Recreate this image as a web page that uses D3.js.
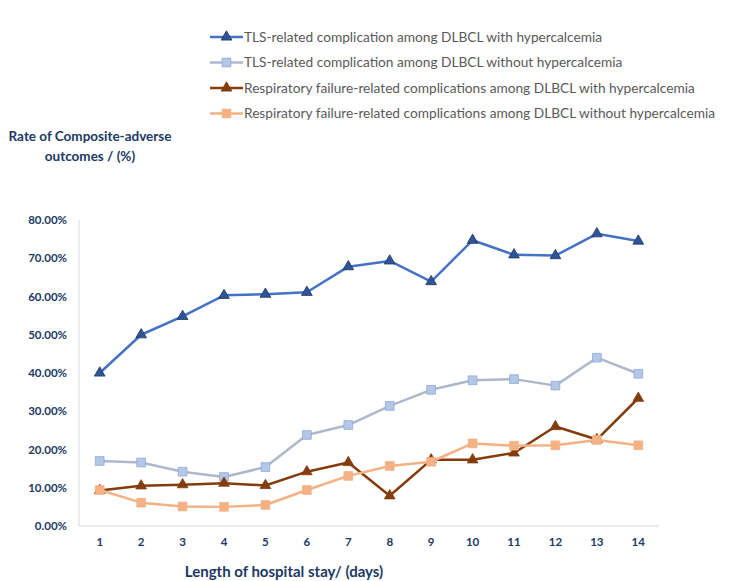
<!DOCTYPE html>
<html>
<head>
<meta charset="utf-8">
<script src="https://cdn.jsdelivr.net/npm/d3@7"></script>
<style>
  body { margin: 0; background: #fff; }
  svg text { font-family: Lato, "Open Sans", sans-serif; }
</style>
</head>
<body>
<div id="chart"></div>
<script>
// data
var days = [1, 2, 3, 4, 5, 6, 7, 8, 9, 10, 11, 12, 13, 14]
var tlsHyper    = [40.0, 50.0, 54.8, 60.3, 60.6, 61.1, 67.8, 69.3, 63.9, 74.7, 70.9, 70.7, 76.4, 74.5]
var tlsNoHyper  = [17.0, 16.6, 14.2, 12.8, 15.4, 23.8, 26.4, 31.4, 35.6, 38.1, 38.4, 36.7, 44.0, 39.8]
var respHyper   = [9.3, 10.5, 10.8, 11.2, 10.6, 14.2, 16.6, 7.9, 17.3, 17.3, 19.1, 26.0, 22.6, 33.4]
var respNoHyper = [9.4, 6.1, 5.1, 5.0, 5.5, 9.4, 13.1, 15.7, 16.8, 21.6, 21.0, 21.1, 22.5, 21.1]
var yTicks = [0, 10, 20, 30, 40, 50, 60, 70, 80]

var series = [
  { name: 'TLS-related complication among DLBCL with hypercalcemia', values: tlsHyper,
    line: '#4472C4', fill: '#2F5597', stroke: '#203864', marker: 'triangle' },
  { name: 'TLS-related complication among DLBCL without hypercalcemia', values: tlsNoHyper,
    line: '#ADB9CA', fill: '#B4C7E7', stroke: '#8FAADC', marker: 'square' },
  { name: 'Respiratory failure-related complications among DLBCL with hypercalcemia', values: respHyper,
    line: '#843C0C', fill: '#843C0C', stroke: '#843C0C', marker: 'triangle' },
  { name: 'Respiratory failure-related complications among DLBCL without hypercalcemia', values: respNoHyper,
    line: '#F4B183', fill: '#F4B183', stroke: '#F4B183', marker: 'square' }
]

var width = 750, height = 581
var navy = '#203864'

var svg = d3.select('#chart').append('svg')
    .attr('width', width)
    .attr('height', height)

// scales
var x = d3.scaleBand().domain(days).range([79, 659])
var y = d3.scaleLinear().domain([0, 80]).range([526, 220])

function cx(d) { return x(d) + x.bandwidth() / 2 }

var tri = d3.symbol().type(d3.symbolTriangle).size(50)
var sq  = d3.symbol().type(d3.symbolSquare).size(76)

// axes lines
svg.append('line')
    .attr('x1', 79).attr('x2', 79)
    .attr('y1', y(80)).attr('y2', y(0))
    .attr('stroke', '#D9D9D9').attr('stroke-width', 1)
svg.append('line')
    .attr('x1', 79).attr('x2', 659)
    .attr('y1', y(0)).attr('y2', y(0))
    .attr('stroke', '#D9D9D9').attr('stroke-width', 1)

// y tick labels
svg.selectAll('.ytick').data(yTicks).enter()
  .append('text')
    .attr('class', 'ytick')
    .attr('x', 67)
    .attr('y', d => y(d))
    .attr('dy', '0.35em')
    .attr('text-anchor', 'end')
    .attr('font-size', 11.5)
    .attr('font-weight', 'bold')
    .attr('fill', navy)
    .text(d => d.toFixed(2) + '%')

// x tick labels
svg.selectAll('.xtick').data(days).enter()
  .append('text')
    .attr('class', 'xtick')
    .attr('x', d => cx(d))
    .attr('y', 542)
    .attr('dy', '0.35em')
    .attr('text-anchor', 'middle')
    .attr('font-size', 11.5)
    .attr('font-weight', 'bold')
    .attr('fill', navy)
    .text(d => d)

// axis titles
var ytitle = svg.append('text')
    .attr('font-size', 13.5)
    .attr('font-weight', 'bold')
    .attr('fill', navy)
    .attr('text-anchor', 'middle')
ytitle.append('tspan').attr('x', 90).attr('y', 141).text('Rate of Composite-adverse')
ytitle.append('tspan').attr('x', 90).attr('y', 161).text('outcomes / (%)')

svg.append('text')
    .attr('x', 284)
    .attr('y', 577)
    .attr('text-anchor', 'middle')
    .attr('font-size', 15)
    .attr('font-weight', 'bold')
    .attr('fill', navy)
    .text('Length of hospital stay/ (days)')

// lines + markers
var line = d3.line()
    .x((d, i) => cx(days[i]))
    .y(d => y(d))

series.forEach(function(s) {
  var g = svg.append('g')
  g.append('path')
      .datum(s.values)
      .attr('d', line)
      .attr('fill', 'none')
      .attr('stroke', s.line)
      .attr('stroke-width', 2.5)
      .attr('stroke-linejoin', 'round')
  g.selectAll('path.mk').data(s.values).enter()
    .append('path')
      .attr('class', 'mk')
      .attr('d', s.marker == 'triangle' ? tri : sq)
      .attr('transform', (d, i) => 'translate(' + cx(days[i]) + ',' + y(d) + ')')
      .attr('fill', s.fill)
      .attr('stroke', s.stroke)
      .attr('stroke-width', 0.8)
})

// legend
var legend = svg.selectAll('.legend').data(series).enter()
  .append('g')
    .attr('class', 'legend')
    .attr('transform', (d, i) => 'translate(210,' + (37 + i * 25.5) + ')')
legend.append('line')
    .attr('x1', 0).attr('x2', 33)
    .attr('stroke', d => d.line)
    .attr('stroke-width', 2.5)
legend.append('path')
    .attr('d', d => d.marker == 'triangle' ? tri() : sq())
    .attr('transform', 'translate(16.5,0)')
    .attr('fill', d => d.fill)
    .attr('stroke', d => d.stroke)
    .attr('stroke-width', 0.8)
legend.append('text')
    .attr('x', 34)
    .attr('dy', '0.35em')
    .attr('font-size', 13.7)
    .attr('fill', '#595959')
    .text(d => d.name)
</script>
</body>
</html>
